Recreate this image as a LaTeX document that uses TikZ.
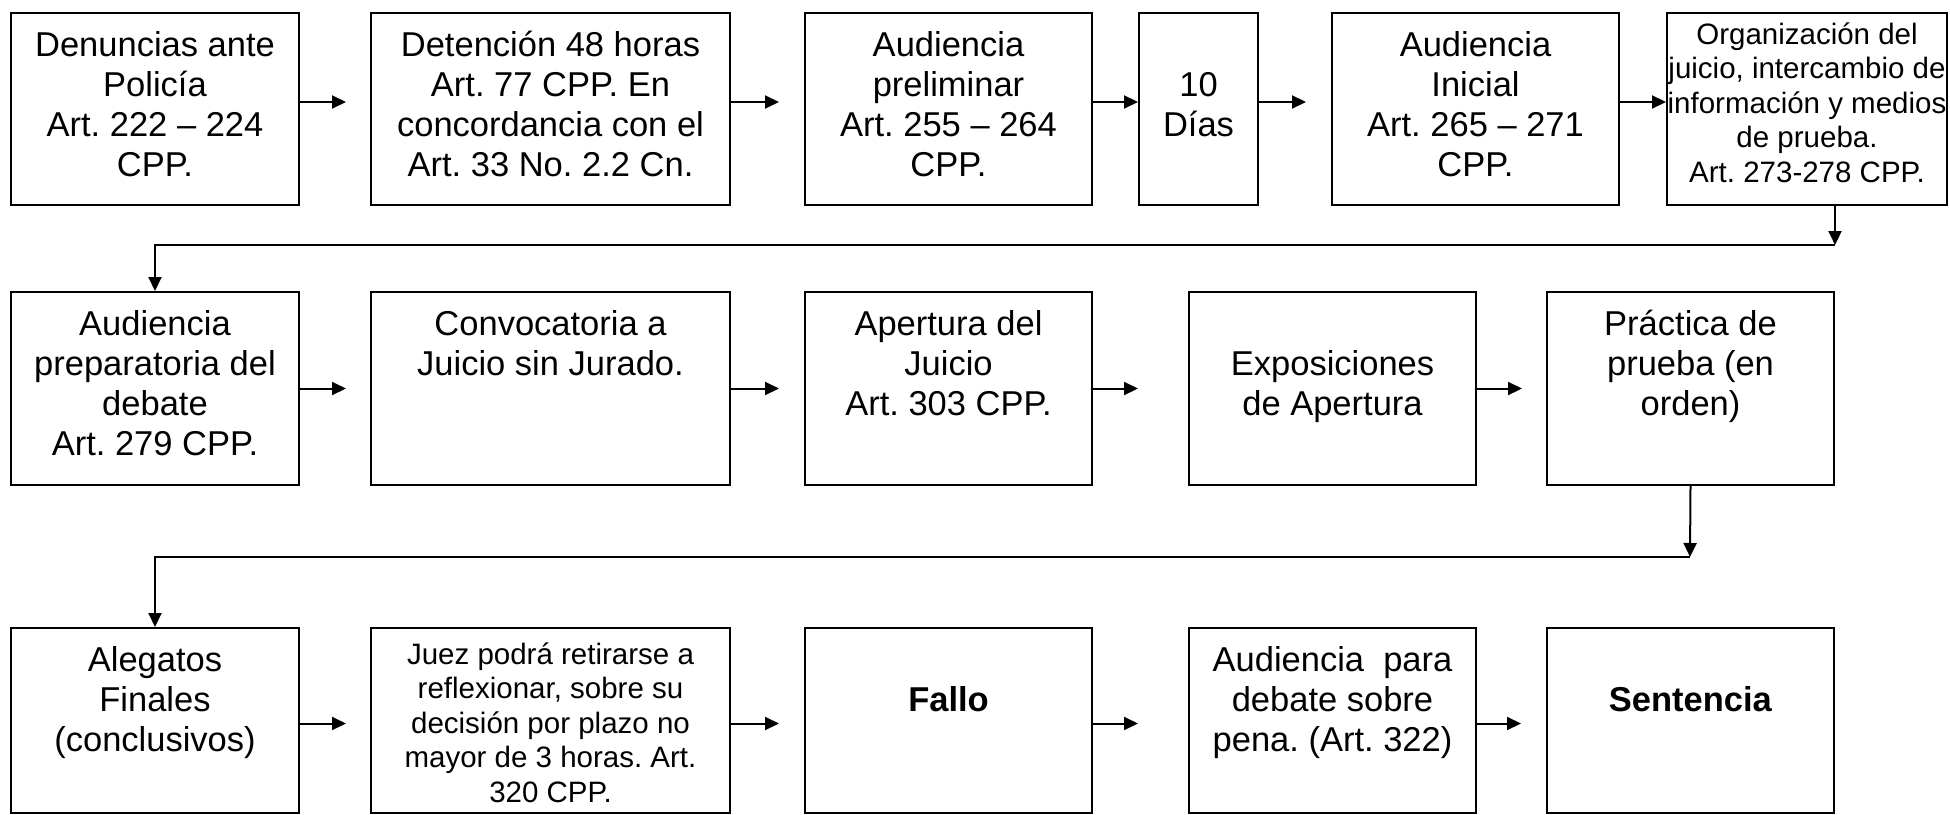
\documentclass[tikz,border=0pt]{standalone}
\usepackage{fontspec}
\setmainfont{Liberation Sans}
\usetikzlibrary{arrows.meta,positioning}
\frenchspacing

\newcommand{\grande}{\fontsize{34.5}{40}\selectfont}
\newcommand{\chica}{\fontsize{29.5}{34.5}\selectfont}
% ancho, alto, espacio arriba, texto
\newcommand{\caja}[4]{\parbox[c][#2][t]{#1}{\centering\vspace*{#3}\strut #4}}

\begin{document}
\begin{tikzpicture}[x=1pt,y=-1pt,
    paso/.style={draw,line width=2pt,inner sep=0pt,anchor=north west,font=\grande},
    flecha/.style={line width=2pt,-{Triangle[length=14pt,width=13pt]}}
  ]
  \useasboundingbox (0,0) rectangle (1950,814);
  % fila 1
  \node[paso] (denuncia) at (10,12)   {\caja{288pt}{192pt}{15pt}{Denuncias ante\\Policía\\Art. 222 – 224\\CPP.}};
  \node[paso] (detencion) at (370,12) {\caja{359pt}{192pt}{15pt}{Detención 48 horas\\Art. 77 CPP. En\\concordancia con el\\Art. 33 No. 2.2 Cn.}};
  \node[paso] (prelim) at (804,12)    {\caja{287pt}{192pt}{15pt}{Audiencia\\preliminar\\Art. 255 – 264\\CPP.}};
  \node[paso] (dias) at (1138,12)     {\caja{119pt}{192pt}{15pt}{\\10\\Días}};
  \node[paso] (inicial) at (1331,12)  {\caja{287pt}{192pt}{15pt}{Audiencia\\Inicial\\Art. 265 – 271\\CPP.}};
  \node[paso,font=\chica] (organiza) at (1666,12) {\caja{280pt}{192pt}{7pt}{Organización del\\juicio, intercambio de\\información y medios\\de prueba.\\Art. 273-278 CPP.}};
  % fila 2
  \node[paso] (prepara) at (10,291)   {\caja{288pt}{193pt}{15pt}{Audiencia\\preparatoria del\\debate\\Art. 279 CPP.}};
  \node[paso] (convoca) at (370,291)  {\caja{359pt}{193pt}{15pt}{Convocatoria a\\Juicio sin Jurado.}};
  \node[paso] (apertura) at (804,291) {\caja{287pt}{193pt}{15pt}{Apertura del\\Juicio\\Art. 303 CPP.}};
  \node[paso] (exposic) at (1188,291) {\caja{287pt}{193pt}{15pt}{\\Exposiciones\\de Apertura}};
  \node[paso] (practica) at (1546,291){\caja{287pt}{193pt}{15pt}{Práctica de\\prueba (en\\orden)}};
  % fila 3
  \node[paso] (alegatos) at (10,627)  {\caja{288pt}{185pt}{15pt}{Alegatos\\Finales\\(conclusivos)}};
  \node[paso,font=\chica] (juez) at (370,627) {\caja{359pt}{185pt}{12pt}{Juez podrá retirarse a\\reflexionar, sobre su\\decisión por plazo no\\mayor de 3 horas. Art.\\320 CPP.}};
  \node[paso] (fallo) at (804,627)    {\caja{287pt}{185pt}{15pt}{\\\textbf{Fallo}}};
  \node[paso] (pena) at (1188,627)    {\caja{287pt}{185pt}{15pt}{Audiencia\ \ para\\debate sobre\\pena. (Art. 322)}};
  \node[paso] (sentencia) at (1546,627) {\caja{287pt}{185pt}{15pt}{\\\textbf{Sentencia}}};

  \coordinate (codo1) at (1835,245);
  \coordinate (codo2) at (1690,557);

  % flechas
  \draw[flecha,shorten >=24pt] ([yshift=7pt]denuncia.east) -- ([yshift=7pt]detencion.west);
  \draw[flecha,shorten >=25pt] ([yshift=7pt]detencion.east) -- ([yshift=7pt]prelim.west);
  \draw[flecha] ([yshift=7pt]prelim.east) -- ([yshift=7pt]dias.west);
  \draw[flecha,shorten >=25pt] ([yshift=7pt]dias.east) -- ([yshift=7pt]inicial.west);
  \draw[flecha] ([yshift=7pt]inicial.east) -- ([yshift=7pt]organiza.west);
  \draw[flecha] (organiza.south -| codo1) -- (codo1);
  \draw[flecha] (codo1) -| (prepara.north);

  \draw[flecha,shorten >=24pt] (prepara) -- (convoca);
  \draw[flecha,shorten >=25pt] (convoca) -- (apertura);
  \draw[flecha,shorten >=50pt] (apertura) -- (exposic);
  \draw[flecha,shorten >=24pt] (exposic) -- (practica);
  \draw[flecha] (practica.south) -- (codo2);
  \draw[flecha] (codo2) -| (alegatos.north);

  \draw[flecha,shorten >=24pt] ([yshift=-3pt]alegatos.east) -- ([yshift=-3pt]juez.west);
  \draw[flecha,shorten >=25pt] ([yshift=-3pt]juez.east) -- ([yshift=-3pt]fallo.west);
  \draw[flecha,shorten >=50pt] ([yshift=-3pt]fallo.east) -- ([yshift=-3pt]pena.west);
  \draw[flecha,shorten >=25pt] ([yshift=-3pt]pena.east) -- ([yshift=-3pt]sentencia.west);
\end{tikzpicture}
\end{document}
